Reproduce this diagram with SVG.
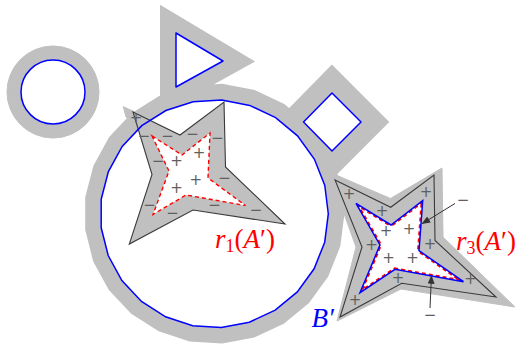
<svg xmlns="http://www.w3.org/2000/svg" width="522" height="344" viewBox="0 0 522 344">
<style>
.g{fill:#c0c0c0;stroke:#c0c0c0;stroke-linejoin:miter}
.bl{fill:#fff;stroke:#0000ff;stroke-width:1.5;stroke-linejoin:round}
.dk{stroke:#3a3a3a;stroke-width:1.1;stroke-linejoin:miter}
.rd{fill:none;stroke:#ff0000;stroke-width:1.4;stroke-dasharray:4 3}
.pm{font-family:"DejaVu Sans",sans-serif;font-size:15px;fill:#606060;text-anchor:middle}
.lbl{font-family:"Liberation Serif",serif;font-size:27px}
.it{font-style:italic}
.con{stroke:#333;stroke-width:1;fill:none}
</style>
<defs>
<marker id="ah" viewBox="0 0 10 8" refX="10" refY="4" markerWidth="9" markerHeight="7" orient="auto" markerUnits="userSpaceOnUse"><path d="M0,0L10,4L0,8z" fill="#333"/></marker>
<polygon id="bigpoly" points="221.7,99.9 249.7,105.4 275.6,117.6 297.5,135.8 314.3,159 324.8,185.5 328.3,213.9 324.7,242.2 314.1,268.8 297.3,291.9 275.2,310.1 249.3,322.2 221.3,327.5 192.7,325.7 165.6,316.8 141.5,301.4 121.9,280.5 108.2,255.5 101.2,227.8 101.2,199.2 108.4,171.6 122.2,146.5 141.8,125.7 165.9,110.5 193.1,101.7"/>
<polygon id="s3blue" points="356,203.3 391,225 422.7,200.7 419,250.7 463.5,281.7 395,269.3 360,292.7 380,245"/>
<clipPath id="s3clip"><use href="#s3blue"/></clipPath>
</defs>

<g id="dilations">
<circle class="g" cx="53" cy="92" r="46" stroke="none"/>
<polygon class="g" points="176,33 176,87 223,61" stroke-width="32"/>
<polygon class="g" points="332,93 303.5,122 332,151 361,122" stroke-width="40"/>
<use href="#bigpoly" class="g" stroke-width="32"/>
<polygon class="g" points="123.3,106.7 134,111.5 131,122 126,117" stroke="none"/>
<polygon class="g" stroke="none" points="329,172 390.5,198.5 442,168 443,237 515,307 401,289 337,321 356,247"/>
</g>

<g id="small-circle"><circle class="bl" cx="53" cy="92" r="32"/></g>
<g id="triangle"><polygon class="bl" points="176,33 176,87 223,61"/></g>
<g id="square"><polygon class="bl" points="332,93 303.5,122 332,151 361,122"/></g>
<g id="big-circle-fill"><use href="#bigpoly" fill="#fff"/></g>

<g id="star-r1">
<polygon class="dk" fill="#c0c0c0" points="133,112 180,135 224,102 225.5,167 285,224 193,210 129.3,244 152,174.5"/>
<polygon fill="#fff" points="152,136 182,155 210,133 208,178 245.5,205.5 186,195 153,214.5 169,171"/>
<polygon class="rd" points="152,136 182,155 210,133 208,178 245.5,205.5 186,195 153,214.5 169,171"/>
<text class="pm" x="136" y="123.2">+</text>
<text class="pm" x="199" y="157.7">+</text>
<text class="pm" x="176.5" y="165.7">+</text>
<text class="pm" x="195.7" y="185.2">+</text>
<text class="pm" x="176.5" y="192.7">+</text>
<text class="pm" x="144" y="141.2">−</text>
<text class="pm" x="167.5" y="140.7">−</text>
<text class="pm" x="192.5" y="138.7">−</text>
<text class="pm" x="217.5" y="142.7">−</text>
<text class="pm" x="158" y="165.7">−</text>
<text class="pm" x="224.5" y="183">−</text>
<text class="pm" x="149.5" y="209.7">−</text>
<text class="pm" x="172.5" y="217.7">−</text>
<text class="pm" x="214.5" y="210.2">−</text>
<text class="pm" x="256" y="214.7">−</text>
</g>

<g id="big-circle"><use href="#bigpoly" fill="none" stroke="#0000ff" stroke-width="1.5"/></g>

<g id="star-r3">
<polygon class="dk" fill="none" points="335,180 390.7,207.3 434,175 435,240.5 496,297 401.7,283.3 340,317 362,247"/>
<use href="#s3blue" fill="#fff"/>
<use href="#s3blue" fill="none" stroke="#ff0000" stroke-width="4" stroke-dasharray="4 3" clip-path="url(#s3clip)"/>
<use href="#s3blue" fill="none" stroke="#0000ff" stroke-width="1.5"/>
<text class="pm" x="349" y="198.7">+</text>
<text class="pm" x="382" y="215.7">+</text>
<text class="pm" x="426" y="196.7">+</text>
<text class="pm" x="386" y="235.7">+</text>
<text class="pm" x="409" y="233.7">+</text>
<text class="pm" x="371.5" y="249.7">+</text>
<text class="pm" x="430" y="248.7">+</text>
<text class="pm" x="388.5" y="263.2">+</text>
<text class="pm" x="412.5" y="263.2">+</text>
<text class="pm" x="398" y="283.2">+</text>
<text class="pm" x="470.5" y="283.7">+</text>
<text class="pm" x="355" y="305.2">+</text>
</g>

<g id="connectors">
<line class="con" x1="455" y1="203.5" x2="421.5" y2="224" marker-end="url(#ah)"/>
<line class="con" x1="430" y1="308" x2="431.5" y2="275" marker-end="url(#ah)"/>
</g>

<g id="labels">
<text class="pm" x="463" y="205.2">−</text>
<text class="pm" x="430" y="319.7">−</text>
<text class="lbl" x="215" y="248" fill="#ff0000"><tspan class="it">r</tspan><tspan font-size="18" dy="4">1</tspan><tspan dy="-4">(</tspan><tspan class="it">A</tspan>′)</text>
<text class="lbl" x="456" y="250" fill="#ff0000"><tspan class="it">r</tspan><tspan font-size="18" dy="4">3</tspan><tspan dy="-4">(</tspan><tspan class="it">A</tspan>′)</text>
<text class="lbl it" x="311.5" y="327" fill="#0000ff">B′</text>
</g>
</svg>
